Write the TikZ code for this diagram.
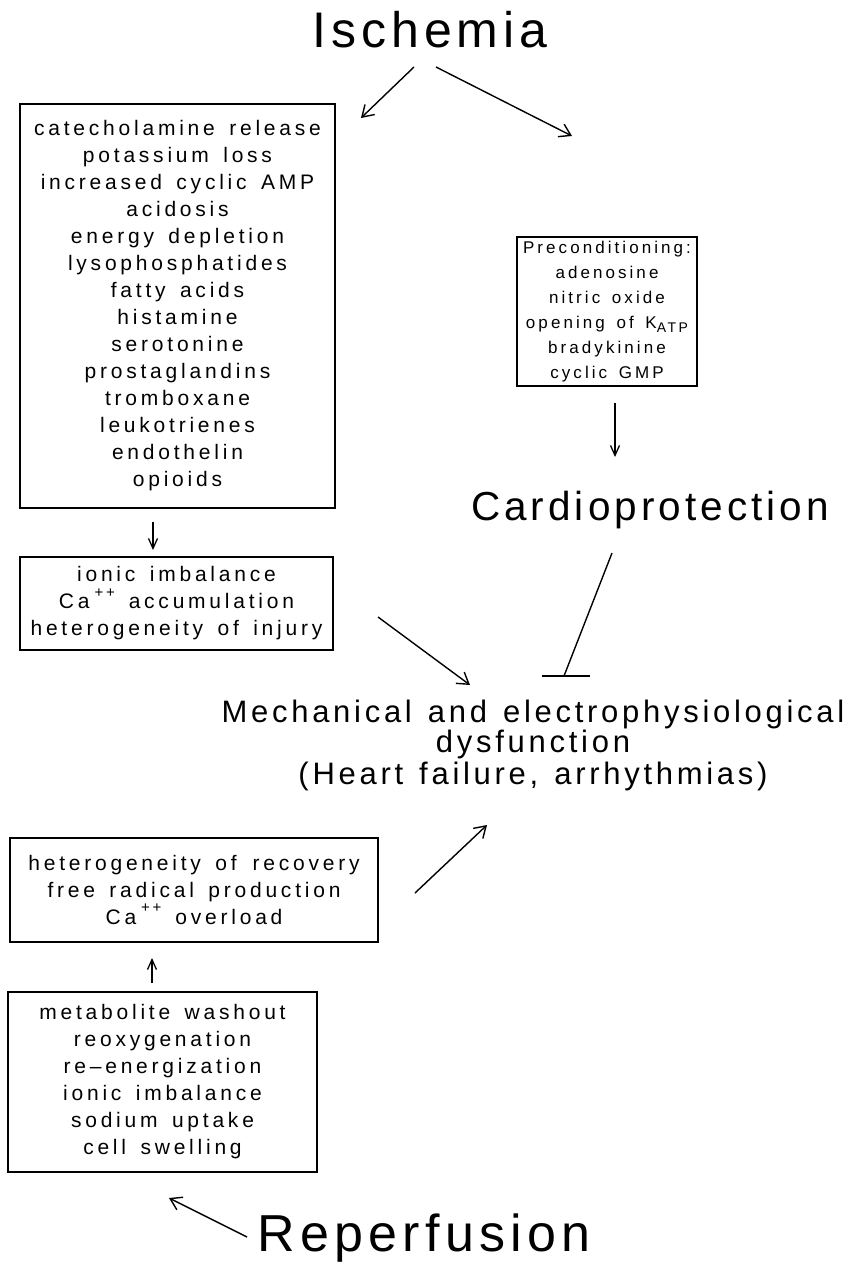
\documentclass[tikz,border=0pt]{standalone}
\usepackage{fontspec}
\setmainfont{Liberation Sans}[LetterSpace=18,WordSpace=1.5]
\newfontfamily\titlefont{Liberation Sans}[LetterSpace=10]
\newfontfamily\midfont{Liberation Sans}[LetterSpace=12,WordSpace=1.3]
\usetikzlibrary{arrows.meta}
\newcommand{\boxfont}{\fontsize{21}{27}\selectfont}
\newcommand{\smallboxfont}{\fontsize{17}{25}\selectfont}
\newcommand{\plusplus}{\hspace{5pt}\raisebox{1.05ex}{\fontsize{15}{15}\selectfont ++}}
\begin{document}
\begin{tikzpicture}[x=1pt,y=-1pt,
  box/.style={draw,line width=1.3pt,inner sep=0pt,align=center,anchor=center},
  title/.style={anchor=center},
  mid/.style={font=\midfont\fontsize{31}{30}\selectfont,anchor=center,align=center},
  arr/.style={line width=1.4pt,-{Straight Barb[length=11pt,width=14pt,line width=1.4pt]}},
  sarr/.style={line width=1.3pt,-{Straight Barb[length=10pt,width=9pt,line width=1.3pt]}},
  inh/.style={line width=1.4pt}]
\useasboundingbox (0,0) rectangle (852,1280);

\node[title,font=\titlefont\fontsize{50}{54}\selectfont] (isc) at (430,30) {Ischemia};

\node[box,minimum width=315pt,minimum height=404pt,font=\boxfont] (b1) at (177.5,306)
 {catecholamine release\\potassium loss\\increased cyclic AMP\\acidosis\\energy depletion\\lysophosphatides\\fatty acids\\histamine\\serotonine\\prostaglandins\\tromboxane\\leukotrienes\\endothelin\\opioids};

\node[box,minimum width=180pt,minimum height=149pt,font=\smallboxfont] (b2) at (607,311.5)
 {Preconditioning:\\adenosine\\nitric oxide\\opening of K\raisebox{-0.5ex}{\fontsize{14}{14}\selectfont ATP}\\bradykinine\\cyclic GMP};

\node[title,font=\titlefont\fontsize{40.5}{44}\selectfont] (cardio) at (650,510) {Cardioprotection};

\node[box,minimum width=313pt,minimum height=93pt,font=\boxfont] (b3) at (176.5,603.5)
 {ionic imbalance\\Ca\plusplus\hspace{14pt}accumulation\\heterogeneity of injury};

\node[mid] (mech) at (533,745)
 {Mechanical and electrophysiological\\[0pt]dysfunction\\[2pt](Heart failure, arrhythmias)};

\node[box,minimum width=368pt,minimum height=104pt,font=\boxfont] (b4) at (194,890)
 {heterogeneity of\hspace{16pt}recovery\\free radical production\\Ca\plusplus\hspace{14pt}overload};

\node[box,minimum width=309pt,minimum height=180pt,font=\boxfont] (b5) at (162.5,1082)
 {metabolite washout\\reoxygenation\\re--energization\\ionic imbalance\\sodium uptake\\cell swelling};

\node[title,font=\titlefont\fontsize{52}{56}\selectfont] (rep) at (424,1238) {Reperfusion};

% connector end points
\coordinate (a1s) at (414,67);  \coordinate (a1e) at (361,118);
\coordinate (a2s) at (436,67);  \coordinate (a2e) at (572,136);
\coordinate (a3s) at (153,522); \coordinate (a3e) at (153,550);
\coordinate (a4s) at (615,403); \coordinate (a4e) at (615,457);
\coordinate (a5s) at (378,617); \coordinate (a5e) at (470,685);
\coordinate (i1s) at (612,553); \coordinate (i1e) at (564,676);
\coordinate (barL) at (542,676); \coordinate (barR) at (590,676);
\coordinate (a6s) at (415,893); \coordinate (a6e) at (487,825);
\coordinate (a7s) at (152,983); \coordinate (a7e) at (152,958);
\coordinate (a8s) at (247,1237); \coordinate (a8e) at (169,1198);

\draw[arr] (a1s) -- (a1e);
\draw[arr] (a2s) -- (a2e);
\draw[sarr] (a3s) -- (a3e);
\draw[sarr] (a4s) -- (a4e);
\draw[arr] (a5s) -- (a5e);
\draw[inh] (i1s) -- (i1e);
\draw[inh] (barL) -- (barR);
\draw[arr] (a6s) -- (a6e);
\draw[sarr] (a7s) -- (a7e);
\draw[arr] (a8s) -- (a8e);
\end{tikzpicture}
\end{document}
